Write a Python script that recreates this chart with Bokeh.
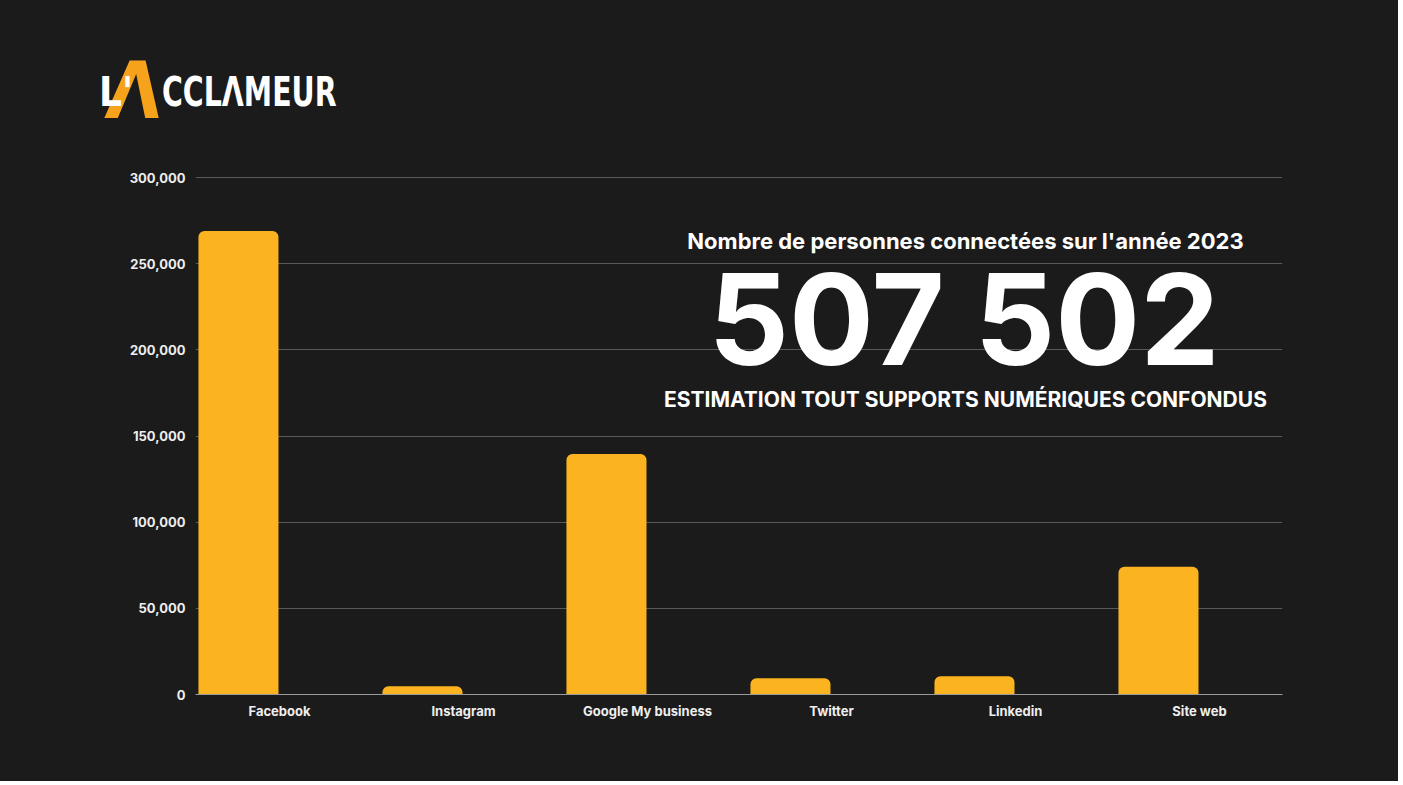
from bokeh.plotting import figure
from bokeh.layouts import column
from bokeh.models import Label, FixedTicker, NumeralTickFormatter, Range1d, ColumnDataSource, Div
from bokeh.embed import file_html
from bokeh.resources import INLINE

categories = ["Facebook", "Instagram", "Google My business", "Twitter", "Linkedin", "Site web"]
values = [269000, 4800, 139500, 9400, 10600, 74200]
y_ticks = [0, 50000, 100000, 150000, 200000, 250000, 300000]
title_text = "Nombre de personnes connectées sur l'année 2023"
total_text = "507 502"
sub_text = "ESTIMATION TOUT SUPPORTS NUMÉRIQUES CONFONDUS"
logo_parts = ["L'", "Λ", "CCLΛMEUR"]

BG = "#1b1b1b"
BAR = "#fbb41f"
LOGO_ORANGE = "#f7a21b"
FONT = "Inter"
LOGO_FONT = "'Liberation Sans Narrow', 'DejaVu Sans Condensed', sans-serif"
bar_shift = -0.223
bar_width = 0.435

W, H = 1398, 781
LOGO_H = 150
Y_TOP = 300000 * 518 / 517   # one pixel of headroom so the 300,000 gridline shows

# ---- logo (HTML text) ----
span = ("<span style=\"position:absolute;left:{l}px;top:{t}px;font-size:{s}px;line-height:1;"
        "color:{c};white-space:nowrap;transform-origin:left top;transform:{tr};\">{txt}</span>")
logo_html = (
    f"<div style=\"position:relative;width:{W}px;height:{LOGO_H}px;"
    f"font-family:{LOGO_FONT};font-weight:bold;\">"
    + span.format(l=111, t=52, s=79, c=LOGO_ORANGE, tr="skewX(-6deg)", txt=logo_parts[1])
    + span.format(l=99, t=72, s=40, c="white", tr="none", txt=logo_parts[0])
    + span.format(l=162, t=72, s=40, c="white", tr="scaleX(0.79)", txt=logo_parts[2])
    + "</div>"
)
logo = Div(text=logo_html, width=W, height=LOGO_H, margin=0,
           styles={"background-color": BG, "overflow": "hidden"})

# ---- chart ----
idx = list(range(len(categories)))
src = ColumnDataSource(dict(x=[i + bar_shift for i in idx], top=values))

p = figure(width=W, height=H - LOGO_H, output_backend="svg", toolbar_location=None,
           x_range=Range1d(-0.4565, 5.451), y_range=Range1d(0, Y_TOP),
           background_fill_color=BG, border_fill_color=BG,
           min_border_left=195, min_border_right=116, min_border_top=176 - LOGO_H,
           min_border_bottom=87, margin=0)
p.outline_line_color = None

p.vbar(x="x", top="top", width=bar_width, bottom=0, source=src,
       fill_color=BAR, line_color=None, border_radius=(6, 6, 0, 0))

p.xgrid.grid_line_color = None
p.ygrid.grid_line_color = "#595959"
p.ygrid.grid_line_width = 1
p.ygrid.ticker = FixedTicker(ticks=y_ticks)

p.yaxis.ticker = FixedTicker(ticks=y_ticks)
p.yaxis.formatter = NumeralTickFormatter(format="0,0")
p.yaxis.axis_line_color = None
p.yaxis.major_tick_line_color = None
p.yaxis.minor_tick_line_color = None
p.yaxis.major_label_text_color = "#eeeeee"
p.yaxis.major_label_text_font = FONT
p.yaxis.major_label_text_font_style = "bold"
p.yaxis.major_label_text_font_size = "13px"
p.yaxis.major_label_standoff = 4

p.xaxis.ticker = FixedTicker(ticks=idx)
p.xaxis.major_label_overrides = {i: c for i, c in zip(idx, categories)}
p.xaxis.axis_line_color = "#9a9a9a"
p.xaxis.axis_line_width = 1
p.xaxis.major_tick_line_color = None
p.xaxis.minor_tick_line_color = None
p.xaxis.major_label_text_color = "#eeeeee"
p.xaxis.major_label_text_font = FONT
p.xaxis.major_label_text_font_style = "bold"
p.xaxis.major_label_text_font_size = "13px"
p.xaxis.major_label_standoff = 2

p.add_layout(Label(x=3.728, y=262863, text=title_text, text_align="center", text_baseline="middle",
                   text_color="white", text_font=FONT, text_font_style="bold", text_font_size="22px"))
p.add_layout(Label(x=3.72, y=217602, text=total_text, text_align="center", text_baseline="middle",
                   text_color="white", text_font=FONT, text_font_style="bold", text_font_size="126px"))
p.add_layout(Label(x=3.728, y=171180, text=sub_text, text_align="center", text_baseline="middle",
                   text_color="white", text_font=FONT, text_font_style="bold", text_font_size="21px"))

layout = column(logo, p, spacing=0, styles={"background-color": BG})
open("out.html", "w").write(file_html(layout, INLINE))
